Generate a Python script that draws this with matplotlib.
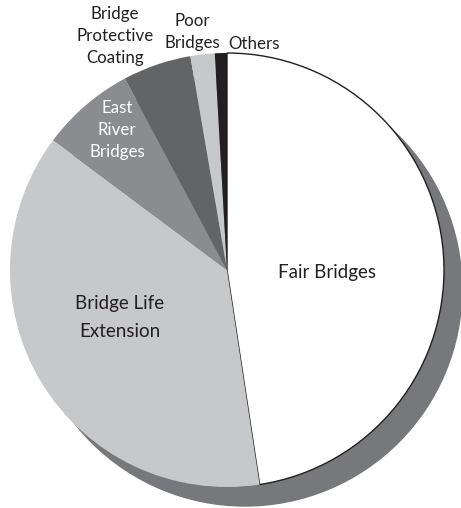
import matplotlib.pyplot as plt
from matplotlib.patches import Circle

plt.rcParams['font.family'] = ['Lato', 'DejaVu Sans']

labels = ['Fair Bridges', 'Bridge Life\nExtension', 'East\nRiver\nBridges',
          'Bridge\nProtective\nCoating', 'Poor\nBridges', 'Others']
shares = [47.6, 37.6, 7.0, 5.1, 1.8, 0.9]
colors = ['#ffffff', '#c7c8ca', '#8b8c8f', '#636466', '#c7c8ca', '#231f20']

W, H = 461, 508
cx, cy, r = 227, H - 270, 217

fig = plt.figure(figsize=(W / 100, H / 100), dpi=100)
ax = fig.add_axes([0, 0, 1, 1])

# drop shadow behind the pie
ax.add_patch(Circle((cx + 18, cy - 19), r, color='#77787b', zorder=0))

wedges, _ = ax.pie(shares, colors=colors, startangle=90, counterclock=False,
                   radius=r, center=(cx, cy),
                   wedgeprops=dict(linewidth=0))
for w in wedges:
    w.set_zorder(1)
wedges[0].set_edgecolor('#231f20')
wedges[0].set_linewidth(1.0)

ax.set_xlim(0, W)
ax.set_ylim(0, H)
ax.axis('off')

txt = '#231f20'
big = dict(ha='center', va='baseline', fontsize=13.5, color=txt, linespacing=1.8)
small = dict(ha='center', va='baseline', fontsize=12.2, color=txt, linespacing=1.45)

# (x, y of last baseline) in pixels from the top left
ax.text(327, H - 278, labels[0], **big)
ax.text(120, H - 337, labels[1], **big)
ax.text(117, H - 157, labels[2], **{**small, 'color': 'white'})
ax.text(115, H - 63, labels[3], **small)
ax.text(192, H - 48, labels[4], **small)
ax.text(254, H - 49, labels[5], **small)

fig.savefig('out.png', dpi=100)
